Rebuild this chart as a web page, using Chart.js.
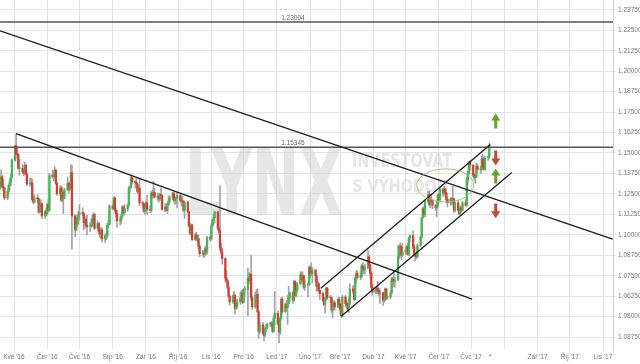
<!DOCTYPE html>
<html>
<head>
<meta charset="utf-8">
<script src="https://cdn.jsdelivr.net/npm/chart.js@4.4.1/dist/chart.umd.min.js"></script>
<style>
  html, body { margin: 0; padding: 0; background: #fff; }
  canvas { display: block; }
</style>
</head>
<body>
<canvas id="chart" width="640" height="364"></canvas>
<script>
// EUR/USD daily candles, Mon 18 Apr 2016 - Tue 18 Jul 2017 (one row = two weeks)
var opens = [
  1.1285,1.1315,1.1355,1.1295,1.1285, 1.1225,1.1265,1.1300,1.1320,1.1350,
  1.1455,1.1545,1.1495,1.1490,1.1405, 1.1405,1.1385,1.1375,1.1425,1.1370,
  1.1310,1.1315,1.1315,1.1215,1.1200, 1.1225,1.1220,1.1140,1.1180,1.1190,
  1.1115,1.1140,1.1130,1.1185,1.1150, 1.1365,1.1355,1.1355,1.1395,1.1315,
  1.1250,1.1285,1.1210,1.1260,1.1225, 1.1275,1.1315,1.1280,1.1295,1.1380,
  1.1115,1.1030,1.1065,1.1105,1.1125, 1.1135,1.1130,1.1075,1.1095,1.1060,
  1.1050,1.1055,1.1060,1.1095,1.1125, 1.1040,1.1070,1.1020,1.1005,1.1030,
  1.0975,1.0995,1.0995,1.1060,1.1065, 1.1175,1.1160,1.1225,1.1150,1.1130,
  1.1085,1.1090,1.1115,1.1170,1.1135, 1.1160,1.1180,1.1285,1.1290,1.1350,
  1.1325,1.1320,1.1310,1.1265,1.1285, 1.1195,1.1190,1.1145,1.1160,1.1195,
  1.1155,1.1150,1.1255,1.1240,1.1260, 1.1230,1.1235,1.1220,1.1245,1.1240,
  1.1155,1.1170,1.1150,1.1185,1.1205, 1.1225,1.1255,1.1210,1.1220,1.1225,
  1.1240,1.1210,1.1205,1.1205,1.1150, 1.1200,1.1140,1.1055,1.1010,1.1060,
  1.0970,1.1000,1.0975,1.0975,1.0930, 1.0885,1.0885,1.0880,1.0915,1.0895,
  1.0985,1.0975,1.1055,1.1090,1.1105, 1.1140,1.1040,1.1025,1.0920,1.0895,
  1.0855,1.0735,1.0720,1.0680,1.0625, 1.0590,1.0625,1.0630,1.0550,1.0560,
  1.0590,1.0615,1.0645,1.0585,1.0665, 1.0665,1.0735,1.0720,1.0760,1.0615,
  1.0560,1.0630,1.0635,1.0530,1.0410, 1.0450,1.0400,1.0385,1.0425,1.0435,
  1.0455,1.0455,1.0455,1.0410,1.0490, 1.0520,1.0460,1.0405,1.0490,1.0605,
  1.0530,1.0575,1.0555,1.0580,1.0615, 1.0645,1.0600,1.0715,1.0630,1.0660,
  1.0700,1.0755,1.0725,1.0750,1.0680, 1.0695,1.0695,1.0800,1.0760,1.0760,
  1.0785,1.0750,1.0685,1.0700,1.0660, 1.0640,1.0600,1.0575,1.0610,1.0675,
  1.0615,1.0615,1.0540,1.0560,1.0585, 1.0560,1.0605,1.0575,1.0545,1.0505,
  1.0620,1.0580,1.0570,1.0545,1.0580, 1.0670,1.0655,1.0605,1.0735,1.0765,
  1.0740,1.0745,1.0810,1.0795,1.0785, 1.0800,1.0865,1.0815,1.0765,1.0680,
  1.0650,1.0665,1.0675,1.0660,1.0640, 1.0645,1.0600,1.0605,1.0670,1.0615,
  1.0620,1.0645,1.0730,1.0715,1.0715, 1.0725,1.0865,1.0930,1.0925,1.0875,
  1.0895,1.0900,1.0930,1.0880,1.0980, 1.0995,1.0925,1.0875,1.0870,1.0865,
  1.0935,1.0985,1.1105,1.1160,1.1125, 1.1205,1.1245,1.1185,1.1215,1.1210,
  1.1180,1.1165,1.1180,1.1245,1.1215, 1.1280,1.1255,1.1280,1.1255,1.1215,
  1.1195,1.1220,1.1210,1.1220,1.1150, 1.1195,1.1150,1.1130,1.1165,1.1150,
  1.1195,1.1180,1.1335,1.1375,1.1445, 1.1425,1.1365,1.1350,1.1355,1.1420,
  1.1400,1.1400,1.1465,1.1415,1.1400, 1.1470,1.1475
];
var highs = [
  1.1330,1.1397,1.1365,1.1338,1.1290, 1.1275,1.1305,1.1340,1.1370,1.1465,
  1.1546,1.1616,1.1530,1.1495,1.1460, 1.1430,1.1400,1.1445,1.1430,1.1380,
  1.1345,1.1345,1.1340,1.1235,1.1245, 1.1245,1.1225,1.1190,1.1215,1.1195,
  1.1150,1.1160,1.1195,1.1215,1.1374, 1.1395,1.1385,1.1416,1.1400,1.1320,
  1.1300,1.1300,1.1295,1.1265,1.1285, 1.1350,1.1320,1.1320,1.1428,1.1427,
  1.1125,1.1090,1.1120,1.1145,1.1185, 1.1165,1.1140,1.1110,1.1110,1.1120,
  1.1075,1.1100,1.1120,1.1135,1.1130, 1.1085,1.1075,1.1030,1.1045,1.1040,
  1.1005,1.1010,1.1070,1.1090,1.1185, 1.1190,1.1234,1.1230,1.1165,1.1150,
  1.1110,1.1125,1.1180,1.1175,1.1185, 1.1190,1.1295,1.1300,1.1366,1.1355,
  1.1330,1.1345,1.1315,1.1295,1.1342, 1.1205,1.1195,1.1165,1.1205,1.1240,
  1.1175,1.1265,1.1275,1.1327,1.1285, 1.1255,1.1250,1.1255,1.1285,1.1245,
  1.1190,1.1190,1.1195,1.1235,1.1240, 1.1260,1.1260,1.1235,1.1230,1.1260,
  1.1250,1.1225,1.1238,1.1210,1.1195, 1.1205,1.1145,1.1070,1.1065,1.1065,
  1.1010,1.1015,1.0995,1.1000,1.0940, 1.0905,1.0895,1.0925,1.0935,1.0990,
  1.1000,1.1070,1.1095,1.1125,1.1145, 1.1145,1.1075,1.1299,1.0950,1.0915,
  1.0860,1.0780,1.0725,1.0710,1.0635, 1.0635,1.0655,1.0640,1.0575,1.0605,
  1.0650,1.0660,1.0665,1.0670,1.0685, 1.0796,1.0770,1.0765,1.0874,1.0625,
  1.0650,1.0665,1.0670,1.0535,1.0465, 1.0465,1.0415,1.0440,1.0450,1.0460,
  1.0465,1.0470,1.0470,1.0500,1.0654, 1.0535,1.0465,1.0495,1.0615,1.0620,
  1.0585,1.0600,1.0630,1.0685,1.0650, 1.0655,1.0720,1.0720,1.0680,1.0710,
  1.0775,1.0770,1.0775,1.0755,1.0725, 1.0700,1.0810,1.0810,1.0829,1.0800,
  1.0790,1.0760,1.0715,1.0710,1.0670, 1.0650,1.0620,1.0615,1.0680,1.0680,
  1.0630,1.0620,1.0570,1.0600,1.0595, 1.0615,1.0620,1.0580,1.0560,1.0630,
  1.0630,1.0600,1.0585,1.0615,1.0700, 1.0690,1.0665,1.0745,1.0780,1.0780,
  1.0775,1.0820,1.0830,1.0805,1.0820, 1.0906,1.0875,1.0820,1.0775,1.0700,
  1.0680,1.0685,1.0715,1.0670,1.0670, 1.0650,1.0645,1.0675,1.0675,1.0625,
  1.0660,1.0740,1.0740,1.0775,1.0740, 1.0937,1.0935,1.0950,1.0935,1.0950,
  1.0920,1.0935,1.0950,1.0985,1.1000, 1.1023,1.0940,1.0890,1.0890,1.0945,
  1.0995,1.1105,1.1170,1.1170,1.1210, 1.1265,1.1268,1.1225,1.1240,1.1215,
  1.1185,1.1205,1.1250,1.1255,1.1285, 1.1285,1.1296,1.1285,1.1260,1.1230,
  1.1225,1.1230,1.1296,1.1225,1.1205, 1.1210,1.1160,1.1175,1.1180,1.1205,
  1.1215,1.1350,1.1390,1.1445,1.1450, 1.1430,1.1375,1.1370,1.1440,1.1430,
  1.1420,1.1480,1.1490,1.1445,1.1480, 1.1485,1.1560
];
var lows = [
  1.1275,1.1310,1.1285,1.1270,1.1215, 1.1215,1.1245,1.1275,1.1300,1.1345,
  1.1450,1.1490,1.1465,1.1400,1.1364, 1.1375,1.1360,1.1370,1.1365,1.1300,
  1.1295,1.1300,1.1205,1.1190,1.1195, 1.1200,1.1130,1.1135,1.1170,1.1100,
  1.1100,1.1115,1.1120,1.1150,1.1140, 1.1345,1.1330,1.1350,1.1310,1.1240,
  1.1240,1.1205,1.1200,1.1130,1.1220, 1.1270,1.1255,1.1270,1.1280,1.0912,
  1.0987,1.1025,1.1050,1.1065,1.1090, 1.1115,1.1030,1.1040,1.1045,1.1000,
  1.1020,1.1045,1.1050,1.1070,1.1030, 1.1030,1.1005,1.0985,1.0980,1.0955,
  1.0952,1.0970,1.0980,1.1045,1.1060, 1.1155,1.1155,1.1140,1.1110,1.1045,
  1.1060,1.1070,1.1105,1.1125,1.1120, 1.1145,1.1175,1.1260,1.1285,1.1310,
  1.1285,1.1290,1.1255,1.1255,1.1180, 1.1160,1.1135,1.1125,1.1140,1.1125,
  1.1135,1.1140,1.1225,1.1230,1.1225, 1.1210,1.1200,1.1210,1.1225,1.1150,
  1.1140,1.1145,1.1130,1.1180,1.1195, 1.1215,1.1200,1.1185,1.1190,1.1165,
  1.1200,1.1175,1.1190,1.1140,1.1100, 1.1135,1.1050,1.1000,1.1000,1.0965,
  1.0965,1.0965,1.0955,1.0915,1.0865, 1.0870,1.0860,1.0870,1.0890,1.0880,
  1.0960,1.0970,1.1045,1.1065,1.1075, 1.1030,1.1010,1.0905,1.0880,1.0820,
  1.0710,1.0705,1.0665,1.0620,1.0570, 1.0580,1.0600,1.0517,1.0545,1.0550,
  1.0575,1.0595,1.0580,1.0585,1.0625, 1.0505,1.0705,1.0705,1.0600,1.0545,
  1.0550,1.0615,1.0525,1.0366,1.0395, 1.0390,1.0352,1.0375,1.0410,1.0425,
  1.0440,1.0440,1.0400,1.0405,1.0450, 1.0450,1.0341,1.0390,1.0485,1.0520,
  1.0525,1.0540,1.0453,1.0575,1.0590, 1.0580,1.0595,1.0625,1.0620,1.0650,
  1.0695,1.0710,1.0715,1.0670,1.0660, 1.0620,1.0690,1.0740,1.0750,1.0705,
  1.0710,1.0655,1.0660,1.0650,1.0605, 1.0590,1.0565,1.0521,1.0600,1.0605,
  1.0585,1.0525,1.0494,1.0540,1.0540, 1.0555,1.0570,1.0515,1.0495,1.0500,
  1.0560,1.0555,1.0535,1.0525,1.0575, 1.0640,1.0600,1.0600,1.0705,1.0730,
  1.0725,1.0735,1.0775,1.0760,1.0760, 1.0790,1.0805,1.0740,1.0675,1.0630,
  1.0640,1.0640,1.0650,1.0625,1.0580, 1.0569,1.0585,1.0595,1.0605,1.0605,
  1.0610,1.0640,1.0695,1.0685,1.0680, 1.0720,1.0855,1.0900,1.0850,1.0865,
  1.0880,1.0885,1.0875,1.0870,1.0955, 1.0915,1.0870,1.0840,1.0855,1.0860,
  1.0930,1.0980,1.1100,1.1110,1.1110, 1.1195,1.1175,1.1165,1.1200,1.1160,
  1.1150,1.1110,1.1165,1.1200,1.1205, 1.1235,1.1245,1.1235,1.1200,1.1170,
  1.1180,1.1185,1.1189,1.1135,1.1140, 1.1145,1.1120,1.1120,1.1140,1.1145,
  1.1175,1.1175,1.1310,1.1370,1.1395, 1.1355,1.1335,1.1315,1.1350,1.1390,
  1.1375,1.1390,1.1410,1.1395,1.1395, 1.1455,1.1465
];
var closes = [
  1.1315,1.1355,1.1295,1.1285,1.1225, 1.1265,1.1300,1.1320,1.1350,1.1455,
  1.1545,1.1495,1.1490,1.1405,1.1405, 1.1385,1.1375,1.1425,1.1370,1.1310,
  1.1315,1.1315,1.1215,1.1200,1.1225, 1.1220,1.1140,1.1180,1.1190,1.1115,
  1.1140,1.1130,1.1185,1.1150,1.1365, 1.1355,1.1355,1.1395,1.1315,1.1250,
  1.1285,1.1210,1.1260,1.1225,1.1275, 1.1315,1.1280,1.1295,1.1380,1.1115,
  1.1030,1.1065,1.1105,1.1125,1.1135, 1.1130,1.1075,1.1095,1.1060,1.1050,
  1.1055,1.1060,1.1095,1.1125,1.1040, 1.1070,1.1020,1.1005,1.1030,1.0975,
  1.0995,1.0995,1.1060,1.1065,1.1175, 1.1160,1.1225,1.1150,1.1130,1.1085,
  1.1090,1.1115,1.1170,1.1135,1.1160, 1.1180,1.1285,1.1290,1.1350,1.1325,
  1.1320,1.1310,1.1265,1.1285,1.1195, 1.1190,1.1145,1.1160,1.1195,1.1155,
  1.1150,1.1255,1.1240,1.1260,1.1230, 1.1235,1.1220,1.1245,1.1240,1.1155,
  1.1170,1.1150,1.1185,1.1205,1.1225, 1.1255,1.1210,1.1220,1.1225,1.1240,
  1.1210,1.1205,1.1205,1.1150,1.1200, 1.1140,1.1055,1.1010,1.1060,1.0970,
  1.1000,1.0975,1.0975,1.0930,1.0885, 1.0885,1.0880,1.0915,1.0895,1.0985,
  1.0975,1.1055,1.1090,1.1105,1.1140, 1.1040,1.1025,1.0920,1.0895,1.0855,
  1.0735,1.0720,1.0680,1.0625,1.0590, 1.0625,1.0630,1.0550,1.0560,1.0590,
  1.0615,1.0645,1.0585,1.0665,1.0665, 1.0735,1.0720,1.0760,1.0615,1.0560,
  1.0630,1.0635,1.0530,1.0410,1.0450, 1.0400,1.0385,1.0425,1.0435,1.0455,
  1.0455,1.0455,1.0410,1.0490,1.0520, 1.0460,1.0405,1.0490,1.0605,1.0530,
  1.0575,1.0555,1.0580,1.0615,1.0645, 1.0600,1.0715,1.0630,1.0660,1.0700,
  1.0755,1.0725,1.0750,1.0680,1.0695, 1.0695,1.0800,1.0760,1.0760,1.0785,
  1.0750,1.0685,1.0700,1.0660,1.0640, 1.0600,1.0575,1.0610,1.0675,1.0615,
  1.0615,1.0540,1.0560,1.0585,1.0560, 1.0605,1.0575,1.0545,1.0505,1.0620,
  1.0580,1.0570,1.0545,1.0580,1.0670, 1.0655,1.0605,1.0735,1.0765,1.0740,
  1.0745,1.0810,1.0795,1.0785,1.0800, 1.0865,1.0815,1.0765,1.0680,1.0650,
  1.0665,1.0675,1.0660,1.0640,1.0645, 1.0600,1.0605,1.0670,1.0615,1.0620,
  1.0645,1.0730,1.0715,1.0715,1.0725, 1.0865,1.0930,1.0925,1.0875,1.0895,
  1.0900,1.0930,1.0880,1.0980,1.0995, 1.0925,1.0875,1.0870,1.0865,1.0935,
  1.0985,1.1105,1.1160,1.1125,1.1205, 1.1245,1.1185,1.1215,1.1210,1.1180,
  1.1165,1.1180,1.1245,1.1215,1.1280, 1.1255,1.1280,1.1255,1.1215,1.1195,
  1.1220,1.1210,1.1220,1.1150,1.1195, 1.1150,1.1130,1.1165,1.1150,1.1195,
  1.1180,1.1335,1.1375,1.1445,1.1425, 1.1365,1.1350,1.1355,1.1420,1.1400,
  1.1400,1.1465,1.1415,1.1400,1.1470, 1.1475,1.1545
];

// axis labels (first of each month, May 2016 - Nov 2017; Aug '17 has no label)
var monthLabels = ["Kvě '16", "Čer '16", "Čvc '16", "Srp '16", "Zář '16", "Říj '16", "Lis '16",
  "Pro '16", "Led '17", "Úno '17", "Bře '17", "Dub '17", "Kvě '17", "Čer '17", "Čvc '17", "",
  "Zář '17", "Říj '17", "Lis '17"];
var yTicks = [1.0375, 1.05, 1.0625, 1.075, 1.0875, 1.1, 1.1125, 1.125, 1.1375,
  1.15, 1.1625, 1.175, 1.1875, 1.2, 1.2125, 1.225, 1.2375];

// drawn levels and trend lines: [day1, price1, day2, price2], day 0 = 1 May 2016
var levels = [1.23004, 1.15345];
var trendLines = [
  [-13, 1.2247, 558, 1.0973],
  [1.9, 1.1619, 427, 1.0607],
  [286, 1.0674, 444, 1.1552],
  [305, 1.0503, 464, 1.1381]
];
// arrows: [day, tail price, tip price]
var arrows = [
  [449, 1.1650, 1.1741],
  [449, 1.1515, 1.1424],
  [449, 1.1314, 1.1405],
  [449, 1.1192, 1.1101]
];
var ellipse = [402, 1.1302, 26.5, 0.0101]; // centre day, centre price, radius in days, radius in price

var xMin = -13.05, xMax = 558.3;
var yMin = 1.0296, yMax = 1.2435;

var DAY = 86400000;
var origin = Date.UTC(2016, 4, 1);
var days = [];
var t = Date.UTC(2016, 3, 18);
while (days.length < closes.length) {
  var wd = new Date(t).getUTCDay();
  if (wd !== 0 && wd !== 6) days.push((t - origin) / DAY);
  t += DAY;
}
var monthDays = monthLabels.map(function (l, i) { return (Date.UTC(2016, 4 + i, 1) - origin) / DAY; });
var nowDay = (Date.UTC(2017, 6, 19) - origin) / DAY;
var xTickValues = monthDays.concat([nowDay]);

var wickData = days.map(function (x, i) { return { x: x, y: [lows[i], highs[i]] }; });
var bodyData = days.map(function (x, i) { return { x: x, y: [opens[i], closes[i]] }; });
var bodyColors = closes.map(function (c, i) { return c >= opens[i] ? '#43b553' : '#dc3a2f'; });

var datasets = [
  { type: 'bar', data: wickData, backgroundColor: '#a3a3a3', barThickness: 1, grouped: false, order: 3 },
  { type: 'bar', data: bodyData, backgroundColor: bodyColors, barThickness: 1.6, minBarLength: 1, grouped: false, order: 2 }
];
trendLines.forEach(function (l) {
  datasets.push({ type: 'line', data: [{ x: l[0], y: l[1] }, { x: l[2], y: l[3] }],
    borderColor: '#1c1c1c', borderWidth: 1.3, pointRadius: 0, order: 1 });
});
levels.forEach(function (v) {
  datasets.push({ type: 'line', data: [{ x: xMin, y: v }, { x: xMax, y: v }],
    borderColor: '#555', borderWidth: 1.5, pointRadius: 0, order: 1 });
});

function fitText(ctx, text, x, y, w, h, font) {
  ctx.font = font;
  var m = ctx.measureText(text);
  var tw = m.actualBoundingBoxLeft + m.actualBoundingBoxRight;
  var th = m.actualBoundingBoxAscent;
  ctx.save();
  ctx.translate(x, y);
  ctx.scale(w / tw, h / th);
  ctx.textAlign = 'left';
  ctx.textBaseline = 'alphabetic';
  ctx.fillText(text, m.actualBoundingBoxLeft, th);
  ctx.restore();
}

var overlay = {
  id: 'overlay',
  beforeDatasetsDraw: function (chart) {
    var ctx = chart.ctx;
    ctx.save();
    ctx.fillStyle = 'rgba(205,205,205,0.5)';
    fitText(ctx, 'LYNX', 190, 148, 152, 67, 'bold 100px "DejaVu Sans Condensed"');
    fitText(ctx, 'INVESTOVAT', 353, 152, 99, 15, 'bold 60px "DejaVu Sans Condensed"');
    fitText(ctx, 'S VÝHODOU', 353, 175, 94, 17, 'bold 60px "DejaVu Sans Condensed"');
    ctx.restore();
  },
  afterDatasetsDraw: function (chart) {
    var ctx = chart.ctx, xs = chart.scales.x, ys = chart.scales.y;
    ctx.save();
    // level labels
    ctx.font = '6.5px "Liberation Sans"';
    ctx.fillStyle = '#666';
    ctx.textAlign = 'left';
    ctx.textBaseline = 'alphabetic';
    levels.forEach(function (v) {
      ctx.fillText(v.toFixed(5), xs.getPixelForValue(249), ys.getPixelForValue(v) - 2);
    });
    // ellipse
    var cx = xs.getPixelForValue(ellipse[0]), cy = ys.getPixelForValue(ellipse[1]);
    var rx = xs.getPixelForValue(ellipse[0] + ellipse[2]) - cx;
    var ry = ys.getPixelForValue(ellipse[1] - ellipse[3]) - cy;
    ctx.beginPath();
    ctx.ellipse(cx, cy, rx, ry, 0, 0, Math.PI * 2);
    ctx.strokeStyle = 'rgba(150,190,110,0.85)';
    ctx.lineWidth = 1;
    ctx.stroke();
    // arrows
    arrows.forEach(function (a) {
      var x = xs.getPixelForValue(a[0]);
      var yTail = ys.getPixelForValue(a[1]), yTip = ys.getPixelForValue(a[2]);
      var dir = yTip < yTail ? -1 : 1;
      var headEnd = yTip - dir * 7;
      ctx.beginPath();
      ctx.moveTo(x, yTip);
      ctx.lineTo(x + 4.5, headEnd);
      ctx.lineTo(x + 1.5, headEnd);
      ctx.lineTo(x + 1.5, yTail);
      ctx.lineTo(x - 1.5, yTail);
      ctx.lineTo(x - 1.5, headEnd);
      ctx.lineTo(x - 4.5, headEnd);
      ctx.closePath();
      ctx.fillStyle = dir < 0 ? '#5fa62c' : '#c9452c';
      ctx.fill();
    });
    ctx.restore();
  }
};

Chart.defaults.font.family = '"Liberation Sans", Arial, sans-serif';

new Chart(document.getElementById('chart'), {
  type: 'bar',
  data: { datasets: datasets },
  options: {
    responsive: false,
    devicePixelRatio: 1,
    animation: false,
    layout: { padding: 0 },
    plugins: { legend: { display: false }, tooltip: { enabled: false } },
    scales: {
      x: {
        type: 'linear',
        min: xMin,
        max: xMax,
        offset: false,
        grid: {
          offset: false,
          drawTicks: false,
          color: function (c) { return c.tick && c.tick.value === nowDay ? 'rgba(0,0,0,0)' : '#e4e4e4'; }
        },
        border: { display: false },
        ticks: {
          autoSkip: false,
          maxRotation: 0,
          padding: 3,
          color: '#777',
          font: { size: 6.5 },
          callback: function (v) {
            if (v === nowDay) return '*';
            var i = monthDays.indexOf(v);
            return i >= 0 ? monthLabels[i] : '';
          }
        },
        afterBuildTicks: function (s) { s.ticks = xTickValues.map(function (v) { return { value: v }; }); },
        afterFit: function (s) { s.height = 14; s.paddingLeft = 0; s.paddingRight = 0; }
      },
      y: {
        type: 'linear',
        position: 'right',
        min: yMin,
        max: yMax,
        beginAtZero: false,
        grid: { color: '#e4e4e4', tickLength: 3 },
        border: { color: '#d0d0d0' },
        ticks: {
          padding: 2,
          color: '#777',
          font: { size: 6.5 },
          callback: function (v) { return v.toFixed(5); }
        },
        afterBuildTicks: function (s) { s.ticks = yTicks.map(function (v) { return { value: v }; }); },
        afterFit: function (s) { s.width = 27; s.paddingTop = 0; s.paddingBottom = 0; }
      }
    }
  },
  plugins: [overlay]
});
</script>
</body>
</html>
